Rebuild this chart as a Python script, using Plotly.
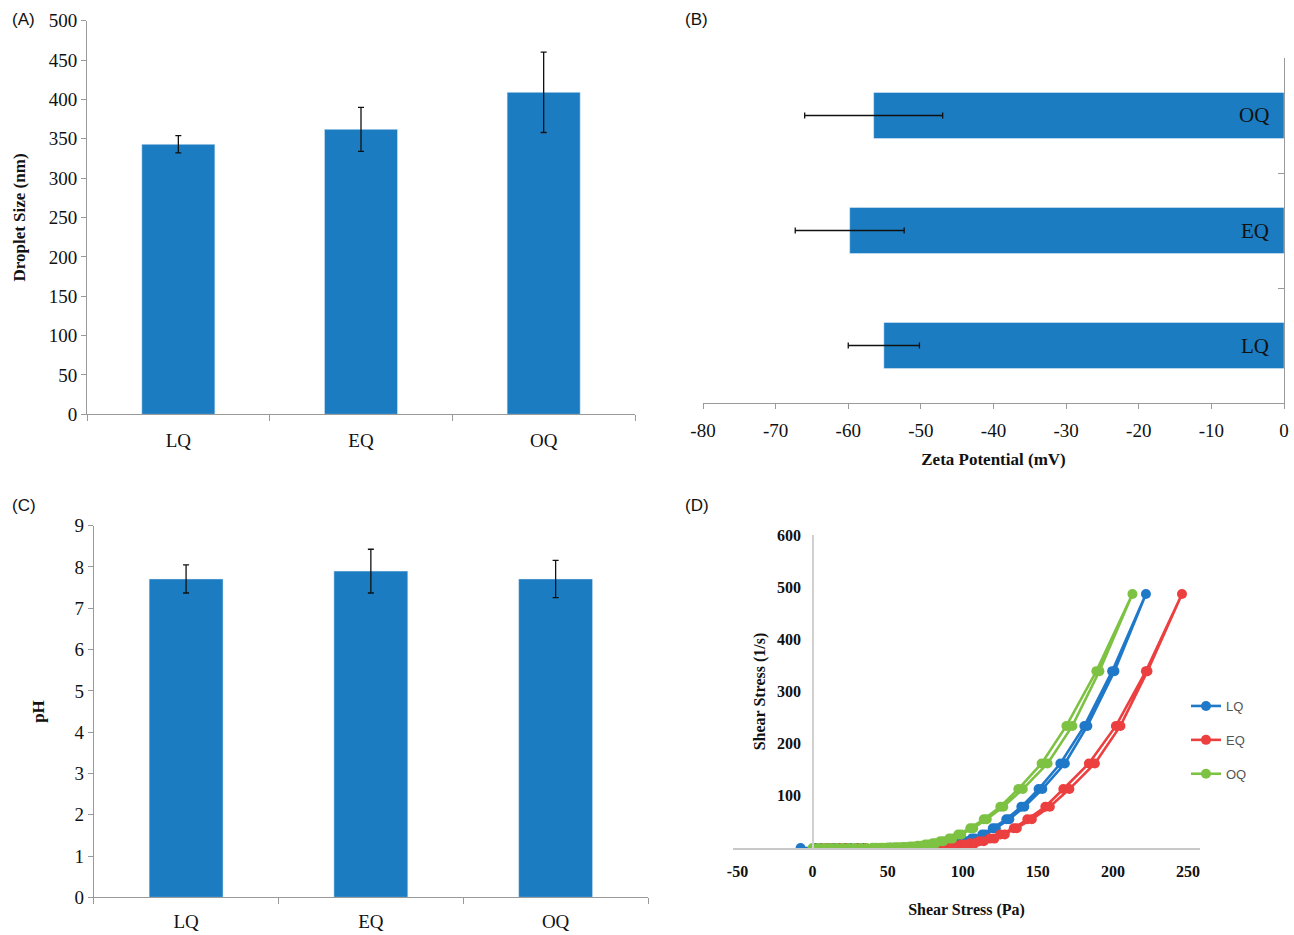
import plotly.graph_objects as go

W, H = 1294, 935

# ---------------- data ----------------
categories = ["LQ", "EQ", "OQ"]

droplet_size = [343, 362, 409]
droplet_err = [11, 28, 51]

zeta = [-55.1, -59.8, -56.5]
zeta_err = [4.9, 7.5, 9.5]
zeta_ticks = [-80, -70, -60, -50, -40, -30, -20, -10, 0]

ph = [7.71, 7.90, 7.71]
ph_err = [0.34, 0.53, 0.45]

# rheogram: shear rate levels (1/s), ascending branch
rate_up = [0, 0, 0, 0, 0, 0.3, 0.5, 0.8, 1.2, 2, 3, 4.5, 6.5, 9, 13, 18, 26, 38, 55, 79, 113, 162, 234, 339, 487]
# descending branch (from 339 down to 0)
rate_down = [339, 234, 162, 113, 79, 55, 38, 26, 18, 13, 9, 6.5, 4.5, 3, 2, 1.2, 0.8, 0.5, 0.3, 0, 0, 0, 0, 0]

lq_stress_up = [-8, 5, 15, 25, 40, 52, 58, 64, 69, 74, 79, 84, 89, 94, 100, 106, 113, 120, 129, 139, 150.5, 165, 181, 199.5, 222]
lq_stress_down = [201, 183, 168, 153, 141, 131, 122, 115, 108, 102, 96, 91, 86, 81, 76, 71, 66, 60, 54, 46, 34, 22, 12, 2]

eq_stress_up = [5, 12, 22, 35, 50, 62, 68, 73, 78, 83, 88, 93, 99, 105, 111, 118, 125, 134, 143, 155, 167, 184, 202, 222, 246]
eq_stress_down = [223, 205, 188, 171, 158, 146, 136, 128, 121, 114, 108, 102, 96, 91, 86, 81, 76, 71, 65, 55, 42, 30, 18, 9]

oq_stress_up = [0, 8, 16, 24, 32, 40, 45, 50, 55, 60, 65, 70, 75, 80, 85, 91, 97, 105, 114, 125, 137, 152.5, 169, 189, 213]
oq_stress_down = [191, 173, 156.5, 140, 127, 116, 107, 99, 93, 87, 82, 77, 72, 67, 62, 57, 52, 47, 42, 36, 28, 20, 12, 4]

stress_ticks = [-50, 0, 50, 100, 150, 200, 250]
rate_ticks = [100, 200, 300, 400, 500, 600]

# ---------------- styling ----------------
BAR = "#1b7cc1"
SERIF = "Liberation Serif"
SANS = "Liberation Sans"
AXC = "#9a9a9a"


def px_x(p):
    return p / W


def px_y(p):
    return 1 - p / H


fig = go.Figure()

err_style = dict(type="data", thickness=1.3, width=3, color="#111111")

# (A) droplet size
fig.add_trace(go.Bar(x=categories, y=droplet_size, marker_color=BAR,
                     error_y=dict(array=droplet_err, **err_style),
                     xaxis="x", yaxis="y", showlegend=False))
# (B) zeta potential
fig.add_trace(go.Bar(y=categories, x=zeta, orientation="h", marker_color=BAR,
                     error_x=dict(array=zeta_err, **err_style),
                     xaxis="x2", yaxis="y2", showlegend=False))
# (C) pH
fig.add_trace(go.Bar(x=categories, y=ph, marker_color=BAR,
                     error_y=dict(array=ph_err, **err_style),
                     xaxis="x3", yaxis="y3", showlegend=False))

# (D) rheogram
series = [
    ("LQ", lq_stress_up, lq_stress_down, "#1f78c8"),
    ("EQ", eq_stress_up, eq_stress_down, "#ec3f3f"),
    ("OQ", oq_stress_up, oq_stress_down, "#7dc243"),
]
for name, up, down, col in series:
    fig.add_trace(go.Scatter(
        x=up + down, y=rate_up + rate_down, mode="lines+markers", name=name,
        line=dict(color=col, width=2.6), marker=dict(color=col, size=10),
        xaxis="x4", yaxis="y4", legendgroup=name))

tick_font = dict(family=SERIF, size=19, color="#111111")
title_font = dict(family=SERIF, size=17, color="#111111", weight="bold")

common_cat = dict(type="category", showline=True, linecolor=AXC, linewidth=1,
                  ticks="outside", tickson="boundaries", ticklen=6, tickcolor=AXC,
                  tickfont=tick_font, showgrid=False, zeroline=False, automargin=False)
common_val = dict(showline=True, linecolor=AXC, linewidth=1, ticks="outside",
                  ticklen=5, tickcolor=AXC, tickfont=tick_font, showgrid=False,
                  zeroline=False, automargin=False)

d_font = dict(family=SERIF, size=16, color="#111111", weight="bold")

fig.update_layout(
    width=W, height=H, margin=dict(l=0, r=0, t=0, b=0, autoexpand=False),
    plot_bgcolor="white", paper_bgcolor="white",
    bargap=0.6,
    # A
    xaxis=dict(domain=[px_x(87), px_x(635)], anchor="y", range=[-0.5, 2.5],
               ticklabelstandoff=9, **common_cat),
    yaxis=dict(domain=[px_y(414.3), px_y(20.7)], anchor="x", range=[0, 500], dtick=50,
               title=dict(text="Droplet Size (nm)", font=title_font, standoff=18),
               **common_val),
    # B
    xaxis2=dict(domain=[px_x(703), px_x(1284)], anchor="y2", range=[-80, 0],
                tickvals=zeta_ticks, ticktext=[str(v) for v in zeta_ticks],
                ticklabelstandoff=5,
                title=dict(text="Zeta Potential (mV)", font=title_font, standoff=13),
                **common_val),
    yaxis2=dict(domain=[px_y(403), px_y(58)], anchor="x2", side="right",
                range=[-0.5, 2.5], showticklabels=False,
                **{k: v for k, v in common_cat.items() if k not in ("ticks",)},
                ticks="inside"),
    # C
    xaxis3=dict(domain=[px_x(93.7), px_x(648)], anchor="y3", range=[-0.5, 2.5],
                ticklabelstandoff=7, **common_cat),
    yaxis3=dict(domain=[px_y(897.3), px_y(525.7)], anchor="x3", range=[0, 9], dtick=1,
                title=dict(text="pH", font=title_font, standoff=25),
                **common_val),
    # D
    xaxis4=dict(domain=[px_x(733), px_x(1200)], anchor="y4", range=[-53, 258],
                tickvals=stress_ticks, ticktext=[str(v) for v in stress_ticks],
                showline=True, linecolor="#c8c8c8", linewidth=1.5, ticks="",
                showgrid=False, zeroline=False, automargin=False,
                tickfont=d_font, ticklabelstandoff=8,
                title=dict(text="Shear Stress (Pa)", font=d_font, standoff=25)),
    yaxis4=dict(domain=[px_y(848), px_y(535)], anchor="free",
                position=px_x(813), range=[0, 600],
                showline=True, linecolor="#d0d0d0", linewidth=1.5, ticks="",
                showgrid=False, zeroline=False, automargin=False,
                tickfont=d_font, tickvals=rate_ticks,
                ticklabelstandoff=8,
                title=dict(text="Shear Stress (1/s)", font=d_font, standoff=6)),
    legend=dict(x=px_x(1186), y=px_y(691), xanchor="left", yanchor="top",
                font=dict(family=SANS, size=13, color="#555555"),
                tracegroupgap=14, itemwidth=30, bgcolor="rgba(0,0,0,0)"),
    showlegend=True,
)

# labels inside zeta bars
for c in categories:
    fig.add_annotation(x=-1.8, y=c, xref="x2", yref="y2", text=c, showarrow=False,
                       xanchor="right", yanchor="middle",
                       font=dict(family=SERIF, size=21, color="#111111"))

# panel letters
for lab, xp, yp in [("(A)", 10, 20), ("(B)", 683, 20), ("(C)", 10, 506), ("(D)", 683, 506)]:
    fig.add_annotation(x=px_x(xp), y=px_y(yp), xref="paper", yref="paper", text=lab,
                       showarrow=False, xanchor="left", yanchor="middle",
                       font=dict(family=SANS, size=17, color="#111111"))

fig.write_html("out.html", config={"displayModeBar": False},
               post_script="document.body.style.margin='0';document.body.style.overflow='hidden';")
